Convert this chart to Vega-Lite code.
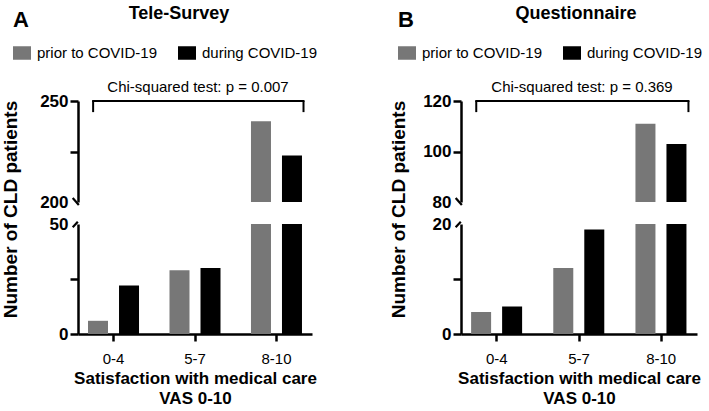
{
  "$schema": "https://vega.github.io/schema/vega-lite/v6.json",
  "padding": {"left": 0, "top": 5, "right": 5, "bottom": 5},
  "background": "white",
  "datasets": {
    "tele": [
      {"group": "0-4", "period": "prior to COVID-19", "count": 6},
      {"group": "0-4", "period": "during COVID-19", "count": 22},
      {"group": "5-7", "period": "prior to COVID-19", "count": 29},
      {"group": "5-7", "period": "during COVID-19", "count": 30},
      {"group": "8-10", "period": "prior to COVID-19", "count": 240},
      {"group": "8-10", "period": "during COVID-19", "count": 223}
    ],
    "quest": [
      {"group": "0-4", "period": "prior to COVID-19", "count": 4},
      {"group": "0-4", "period": "during COVID-19", "count": 5},
      {"group": "5-7", "period": "prior to COVID-19", "count": 12},
      {"group": "5-7", "period": "during COVID-19", "count": 19},
      {"group": "8-10", "period": "prior to COVID-19", "count": 111},
      {"group": "8-10", "period": "during COVID-19", "count": 103}
    ],
    "teleNote": [{"note": "Chi-squared test: p = 0.007"}],
    "questNote": [{"note": "Chi-squared test: p = 0.369"}]
  },
  "hconcat": [
    {
      "vconcat": [
        {
          "width": 234,
          "height": 101,
          "title": {"text": "Tele-Survey", "anchor": "middle", "frame": "group", "dx": -16, "offset": -13},
          "layer": [
            {
              "data": {"name": "tele"},
              "mark": {"type": "bar", "clip": true},
              "encoding": {
                "x": {"field": "group", "type": "nominal", "sort": ["0-4", "5-7", "8-10"], "scale": {"paddingInner": 0.374, "paddingOuter": 0.123}, "axis": null},
                "xOffset": {"field": "period", "type": "nominal", "sort": ["prior to COVID-19", "during COVID-19"], "scale": {"paddingInner": 0.355, "paddingOuter": 0}},
                "y": {"field": "count", "type": "quantitative", "scale": {"domain": [200, 250], "zero": false, "nice": false},
                  "axis": {"title": null, "values": [200, 225, 250], "labelExpr": "datum.value == 225 ? '' : datum.label",
                    "tickOpacity": {"condition": {"test": "datum.value == 200", "value": 0}, "value": 1}}},
                "color": {"field": "period", "type": "nominal", "sort": ["prior to COVID-19", "during COVID-19"],
                  "scale": {"domain": ["prior to COVID-19", "during COVID-19"], "range": ["#777777", "#000000"]},
                  "legend": {"title": "A", "orient": "none", "legendX": -65, "legendY": -91}}
              }
            },
            {
              "data": {"name": "teleNote"},
              "mark": {"type": "rule", "strokeWidth": 2, "color": "#000", "strokeCap": "square"},
              "encoding": {
                "x": {"datum": "0-4", "type": "nominal", "bandPosition": 0.1},
                "x2": {"datum": "8-10", "bandPosition": 1.03},
                "y": {"datum": 250, "type": "quantitative"}
              }
            },
            {
              "data": {"name": "teleNote"},
              "mark": {"type": "rule", "strokeWidth": 2, "color": "#000"},
              "encoding": {
                "x": {"datum": "0-4", "type": "nominal", "bandPosition": 0.1},
                "y": {"datum": 250, "type": "quantitative"},
                "y2": {"datum": 244.5}
              }
            },
            {
              "data": {"name": "teleNote"},
              "mark": {"type": "rule", "strokeWidth": 2, "color": "#000"},
              "encoding": {
                "x": {"datum": "8-10", "type": "nominal", "bandPosition": 1.03},
                "y": {"datum": 250, "type": "quantitative"},
                "y2": {"datum": 244.5}
              }
            },
            {
              "data": {"name": "teleNote"},
              "mark": {"type": "rule", "strokeWidth": 2.2, "color": "#000"},
              "encoding": {
                "x": {"datum": "0-4", "type": "nominal", "bandPosition": -0.3},
                "x2": {"datum": "0-4", "bandPosition": -0.18},
                "y": {"datum": 202, "type": "quantitative"},
                "y2": {"datum": 198.5}
              }
            },
            {
              "data": {"name": "teleNote"},
              "mark": {"type": "text", "fontSize": 15, "dy": -9, "dx": 3, "baseline": "alphabetic", "color": "#000"},
              "encoding": {
                "x": {"datum": "5-7", "type": "nominal"},
                "y": {"datum": 250, "type": "quantitative"},
                "text": {"field": "note"}
              }
            }
          ]
        },
        {
          "width": 234,
          "height": 110,
          "layer": [
            {
              "data": {"name": "tele"},
              "mark": {"type": "bar", "clip": true},
              "encoding": {
                "x": {"field": "group", "type": "nominal", "sort": ["0-4", "5-7", "8-10"], "scale": {"paddingInner": 0.374, "paddingOuter": 0.123},
                  "axis": {"title": ["Satisfaction with medical care", "VAS 0-10"]}},
                "xOffset": {"field": "period", "type": "nominal", "sort": ["prior to COVID-19", "during COVID-19"], "scale": {"paddingInner": 0.355, "paddingOuter": 0}},
                "y": {"field": "count", "type": "quantitative", "scale": {"domain": [0, 50], "nice": false},
                  "axis": {"title": "Number of CLD patients", "values": [0, 25, 50], "labelExpr": "datum.value == 25 ? '' : datum.label",
                    "tickOpacity": {"condition": {"test": "datum.value == 50", "value": 0}, "value": 1},
                    "titleX": -58, "titleY": -15, "titleAlign": "center", "titleAngle": 270, "titleBaseline": "bottom"}},
                "color": {"field": "period", "type": "nominal", "sort": ["prior to COVID-19", "during COVID-19"],
                  "scale": {"domain": ["prior to COVID-19", "during COVID-19"], "range": ["#777777", "#000000"]}, "legend": null}
              }
            },
            {
              "data": {"name": "teleNote"},
              "mark": {"type": "rule", "strokeWidth": 2.2, "color": "#000"},
              "encoding": {
                "x": {"datum": "0-4", "type": "nominal", "bandPosition": -0.3},
                "x2": {"datum": "0-4", "bandPosition": -0.2},
                "y": {"datum": 48.5, "type": "quantitative"},
                "y2": {"datum": 51}
              }
            }
          ]
        }
      ],
      "spacing": 22,
      "bounds": "flush",
      "resolve": {"scale": {"color": "independent", "x": "independent", "y": "independent"}, "legend": {"color": "independent"}}
    },
    {
      "vconcat": [
        {
          "width": 236,
          "height": 101,
          "title": {"text": "Questionnaire", "anchor": "middle", "frame": "group", "dx": -3, "offset": -13},
          "layer": [
            {
              "data": {"name": "quest"},
              "mark": {"type": "bar", "clip": true},
              "encoding": {
                "x": {"field": "group", "type": "nominal", "sort": ["0-4", "5-7", "8-10"], "scale": {"paddingInner": 0.374, "paddingOuter": 0.123}, "axis": null},
                "xOffset": {"field": "period", "type": "nominal", "sort": ["prior to COVID-19", "during COVID-19"], "scale": {"paddingInner": 0.355, "paddingOuter": 0}},
                "y": {"field": "count", "type": "quantitative", "scale": {"domain": [80, 120], "zero": false, "nice": false},
                  "axis": {"title": null, "values": [80, 100, 120],
                    "tickOpacity": {"condition": {"test": "datum.value == 80", "value": 0}, "value": 1}}},
                "color": {"field": "period", "type": "nominal", "sort": ["prior to COVID-19", "during COVID-19"],
                  "scale": {"domain": ["prior to COVID-19", "during COVID-19"], "range": ["#777777", "#000000"]},
                  "legend": {"title": "B", "orient": "none", "legendX": -63, "legendY": -91}}
              }
            },
            {
              "data": {"name": "questNote"},
              "mark": {"type": "rule", "strokeWidth": 2, "color": "#000", "strokeCap": "square"},
              "encoding": {
                "x": {"datum": "0-4", "type": "nominal", "bandPosition": 0.1},
                "x2": {"datum": "8-10", "bandPosition": 1.03},
                "y": {"datum": 120, "type": "quantitative"}
              }
            },
            {
              "data": {"name": "questNote"},
              "mark": {"type": "rule", "strokeWidth": 2, "color": "#000"},
              "encoding": {
                "x": {"datum": "0-4", "type": "nominal", "bandPosition": 0.1},
                "y": {"datum": 120, "type": "quantitative"},
                "y2": {"datum": 115.6}
              }
            },
            {
              "data": {"name": "questNote"},
              "mark": {"type": "rule", "strokeWidth": 2, "color": "#000"},
              "encoding": {
                "x": {"datum": "8-10", "type": "nominal", "bandPosition": 1.03},
                "y": {"datum": 120, "type": "quantitative"},
                "y2": {"datum": 115.6}
              }
            },
            {
              "data": {"name": "questNote"},
              "mark": {"type": "rule", "strokeWidth": 2.2, "color": "#000"},
              "encoding": {
                "x": {"datum": "0-4", "type": "nominal", "bandPosition": -0.3},
                "x2": {"datum": "0-4", "bandPosition": -0.18},
                "y": {"datum": 81.6, "type": "quantitative"},
                "y2": {"datum": 78.8}
              }
            },
            {
              "data": {"name": "questNote"},
              "mark": {"type": "text", "fontSize": 15, "dy": -9, "dx": 3, "baseline": "alphabetic", "color": "#000"},
              "encoding": {
                "x": {"datum": "5-7", "type": "nominal"},
                "y": {"datum": 120, "type": "quantitative"},
                "text": {"field": "note"}
              }
            }
          ]
        },
        {
          "width": 236,
          "height": 110,
          "layer": [
            {
              "data": {"name": "quest"},
              "mark": {"type": "bar", "clip": true},
              "encoding": {
                "x": {"field": "group", "type": "nominal", "sort": ["0-4", "5-7", "8-10"], "scale": {"paddingInner": 0.374, "paddingOuter": 0.123},
                  "axis": {"title": ["Satisfaction with medical care", "VAS 0-10"]}},
                "xOffset": {"field": "period", "type": "nominal", "sort": ["prior to COVID-19", "during COVID-19"], "scale": {"paddingInner": 0.355, "paddingOuter": 0}},
                "y": {"field": "count", "type": "quantitative", "scale": {"domain": [0, 20], "nice": false},
                  "axis": {"title": "Number of CLD patients", "values": [0, 10, 20], "labelExpr": "datum.value == 10 ? '' : datum.label",
                    "tickOpacity": {"condition": {"test": "datum.value == 20", "value": 0}, "value": 1},
                    "titleX": -53, "titleY": -15, "titleAlign": "center", "titleAngle": 270, "titleBaseline": "bottom"}},
                "color": {"field": "period", "type": "nominal", "sort": ["prior to COVID-19", "during COVID-19"],
                  "scale": {"domain": ["prior to COVID-19", "during COVID-19"], "range": ["#777777", "#000000"]}, "legend": null}
              }
            },
            {
              "data": {"name": "questNote"},
              "mark": {"type": "rule", "strokeWidth": 2.2, "color": "#000"},
              "encoding": {
                "x": {"datum": "0-4", "type": "nominal", "bandPosition": -0.3},
                "x2": {"datum": "0-4", "bandPosition": -0.2},
                "y": {"datum": 19.4, "type": "quantitative"},
                "y2": {"datum": 20.4}
              }
            }
          ]
        }
      ],
      "spacing": 22,
      "bounds": "flush",
      "resolve": {"scale": {"color": "independent", "x": "independent", "y": "independent"}, "legend": {"color": "independent"}}
    }
  ],
  "spacing": 383,
  "bounds": "flush",
  "resolve": {"scale": {"color": "independent", "x": "independent", "y": "independent"}, "legend": {"color": "independent"}},
  "config": {
    "font": "Liberation Sans",
    "view": {"stroke": null},
    "axis": {"domainColor": "#000", "domainWidth": 2.5, "tickColor": "#000", "tickWidth": 2.5, "grid": false,
      "labelColor": "#000", "titleColor": "#000", "labelFont": "Liberation Sans", "titleFont": "Liberation Sans", "titleFontWeight": "bold"},
    "axisY": {"labelFontSize": 17, "labelFontWeight": "bold", "tickSize": 8, "labelPadding": 2, "titleFontSize": 19},
    "axisX": {"labelFontSize": 15, "labelFontWeight": "normal", "tickSize": 7, "labelPadding": 10, "labelAngle": 0, "titleFontSize": 17, "titlePadding": 4, "titleLineHeight": 20},
    "legend": {"direction": "horizontal", "titleFontSize": 22, "titleFontWeight": "bold", "titleColor": "#000", "titlePadding": 12,
      "titleOrient": "top", "titleAnchor": "start", "labelFontSize": 15, "labelColor": "#000", "labelOffset": 6, "columnPadding": 20,
      "symbolType": "M-1,-0.75H1V0.75H-1Z", "symbolSize": 324, "symbolStrokeWidth": 0, "symbolOpacity": 1, "padding": 0, "labelFont": "Liberation Sans", "titleFont": "Liberation Sans"},
    "title": {"font": "Liberation Sans", "fontSize": 18, "fontWeight": "bold", "color": "#000"}
  }
}
